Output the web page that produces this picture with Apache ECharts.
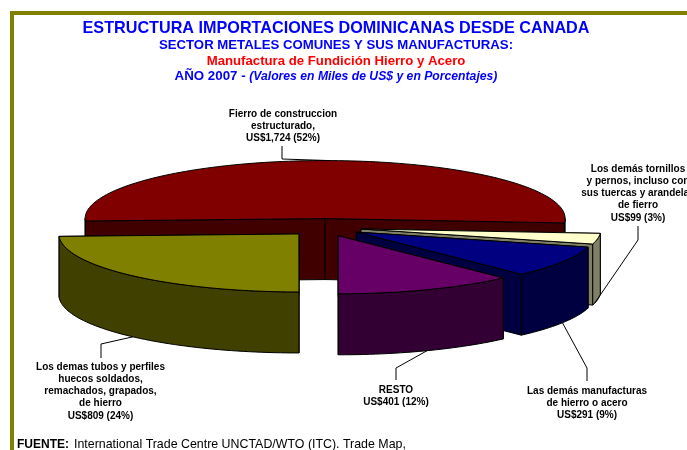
<!DOCTYPE html>
<html>
<head>
<meta charset="utf-8">
<title>Estructura importaciones</title>
<script src="https://cdn.jsdelivr.net/npm/echarts@6/dist/echarts.min.js"></script>
<style>
  html, body { margin: 0; padding: 0; background: #fff; overflow: hidden; }
  #chart { width: 687px; height: 450px; }
</style>
</head>
<body>
<div id="chart"></div>
<script>
// values in miles de US$, clockwise from the first slice
const sliceValues = [1724, 99, 291, 401, 809];
const slicePercents = [52, 3, 9, 12, 24];
const sliceNames = [
  'Fierro de construccion\nestructurado,',
  'Los demás tornillos\ny pernos, incluso con\nsus tuercas y arandelas\nde fierro',
  'Las demás manufacturas\nde hierro o acero',
  'RESTO',
  'Los demas tubos y perfiles\nhuecos soldados,\nremachados, grapados,\nde hierro'
];
const topColors = ['#800000', '#ffffcc', '#000080', '#660066', '#808000'];
const sideColors = ['#400000', '#808066', '#000040', '#330033', '#404000'];

const FONT = '"Liberation Sans", Arial, sans-serif';

// pie geometry
const CX = 324.5, CY = 227.5, RX = 240, RY = 58;
const DEPTH = 61, EXPLODE = 37, FIRST_ANGLE = 267.6;

// where each label sits and where its leader line bends
// anchorAt: position of the line's start along the slice's arc
const labelLayout = [
  { x: 283, y: 108, elbow: [[282, 159], [282, 146]], onTop: true, anchorAt: 0.5 },
  { x: 638, y: 163, elbow: [[638, 240], [638, 226]], anchorAt: 0.85 },
  { x: 587, y: 385, elbow: [[587, 368], [587, 381]], anchorAt: 0.5 },
  { x: 396, y: 384, elbow: [[396, 368], [396, 380]], anchorAt: 0.5 },
  { x: 100.5, y: 361, elbow: [[101, 344], [101, 358]], anchorAt: 0.5 }
];

const total = sliceValues.reduce((a, b) => a + b, 0);
const rad = (d) => d * Math.PI / 180;

// t is a clock angle: 0 at twelve o'clock, growing clockwise
function rimPoint(cx, cy, t, drop) {
  return [cx + RX * Math.sin(rad(t)), cy - RY * Math.cos(rad(t)) + (drop || 0)];
}

function arcPoints(cx, cy, from, to, drop) {
  const pts = [];
  const steps = Math.max(2, Math.ceil((to - from) / 1.5));
  for (let i = 0; i <= steps; i++) {
    pts.push(rimPoint(cx, cy, from + (to - from) * i / steps, drop));
  }
  return pts;
}

function face(points, fill) {
  return {
    type: 'polygon',
    shape: { points },
    style: { fill, stroke: '#000', lineWidth: 1, lineJoin: 'round' }
  };
}

function sliceStart(index) {
  let sum = 0;
  for (let i = 0; i < index; i++) sum += sliceValues[i];
  return FIRST_ANGLE + sum / total * 360;
}

function renderSlice(params, api) {
  const i = params.dataIndex;
  const start = sliceStart(i);
  const end = start + api.value(0) / total * 360;
  const mid = (start + end) / 2;

  // explode along the bisector, squashed the same way as the ellipse
  const cx = CX + EXPLODE * Math.sin(rad(mid));
  const cy = CY - EXPLODE * (RY / RX) * Math.cos(rad(mid));
  const children = [];

  // radial walls
  [start, end].forEach((t) => {
    const rim = rimPoint(cx, cy, t);
    children.push(face([[cx, cy], rim, rimPoint(cx, cy, t, DEPTH), [cx, cy + DEPTH]], sideColors[i]));
  });

  // outer rim, front half only (clock 90..270, repeated for slices crossing 360)
  [[90, 270], [450, 630]].forEach(([lo, hi]) => {
    const a = Math.max(start, lo), b = Math.min(end, hi);
    if (b > a) {
      const upper = arcPoints(cx, cy, a, b, 0);
      const lower = arcPoints(cx, cy, a, b, DEPTH).reverse();
      children.push(face(upper.concat(lower), sideColors[i]));
    }
  });

  // top face
  children.push(face([[cx, cy]].concat(arcPoints(cx, cy, start, end, 0)), topColors[i]));

  // leader line and label
  const layout = labelLayout[i];
  const anchorAngle = start + (end - start) * layout.anchorAt;
  const anchor = rimPoint(cx, cy, anchorAngle, layout.onTop ? 0 : DEPTH);
  children.push({
    type: 'polyline',
    shape: { points: [anchor].concat(layout.elbow) },
    style: { fill: 'none', stroke: '#000', lineWidth: 1 }
  });
  children.push({
    type: 'text',
    style: {
      text: sliceNames[i] + '\nUS$' + api.value(0).toLocaleString('en-US') + ' (' + slicePercents[i] + '%)',
      x: layout.x,
      y: layout.y,
      align: 'center',
      verticalAlign: 'top',
      fill: '#000',
      font: 'bold 10px ' + FONT,
      lineHeight: 12.2
    }
  });
  return { type: 'group', children };
}

const chart = echarts.init(document.getElementById('chart'), null, { renderer: 'canvas' });
chart.setOption({
  animation: false,
  backgroundColor: '#fff',
  title: [
    {
      text: 'ESTRUCTURA IMPORTACIONES DOMINICANAS DESDE CANADA',
      left: 336, top: 21, padding: 0, textAlign: 'center',
      textStyle: { fontFamily: FONT, fontSize: 16.2, fontWeight: 'bold', color: '#0000ff' }
    },
    {
      text: 'SECTOR METALES COMUNES Y SUS MANUFACTURAS:',
      left: 336, top: 39, padding: 0, textAlign: 'center',
      textStyle: { fontFamily: FONT, fontSize: 13.2, fontWeight: 'bold', color: '#0000ff' }
    },
    {
      text: 'Manufactura de Fundición Hierro y Acero',
      left: 336, top: 55, padding: 0, textAlign: 'center',
      textStyle: { fontFamily: FONT, fontSize: 13.2, fontWeight: 'bold', color: '#ff0000' }
    },
    {
      text: '{b|AÑO 2007 - }{i|(Valores en Miles de US$ y en Porcentajes)}',
      left: 336, top: 70, padding: 0, textAlign: 'center',
      textStyle: {
        rich: {
          b: { fontFamily: FONT, fontSize: 13.3, fontWeight: 'bold', color: '#0000ff' },
          i: { fontFamily: FONT, fontSize: 12.2, fontWeight: 'bold', fontStyle: 'italic', color: '#0000ff' }
        }
      }
    },
    {
      text: '{b|FUENTE:} {n|International Trade Centre UNCTAD/WTO (ITC). Trade Map,}',
      left: 17, top: 436, padding: 0,
      textStyle: {
        fontWeight: 'normal',
        rich: {
          b: { fontFamily: FONT, fontSize: 12, fontWeight: 'bold', color: '#000' },
          n: { fontFamily: FONT, fontSize: 12.4, fontWeight: 'normal', color: '#000' }
        }
      }
    }
  ],
  graphic: [
    { type: 'rect', shape: { x: 10, y: 11, width: 677, height: 4 }, style: { fill: '#808000' } },
    { type: 'rect', shape: { x: 10, y: 11, width: 4, height: 439 }, style: { fill: '#808000' } }
  ],
  series: [{
    type: 'custom',
    coordinateSystem: 'none',
    silent: true,
    clip: false,
    renderItem: renderSlice,
    data: sliceValues.map((v) => [v])
  }]
});
</script>
</body>
</html>
